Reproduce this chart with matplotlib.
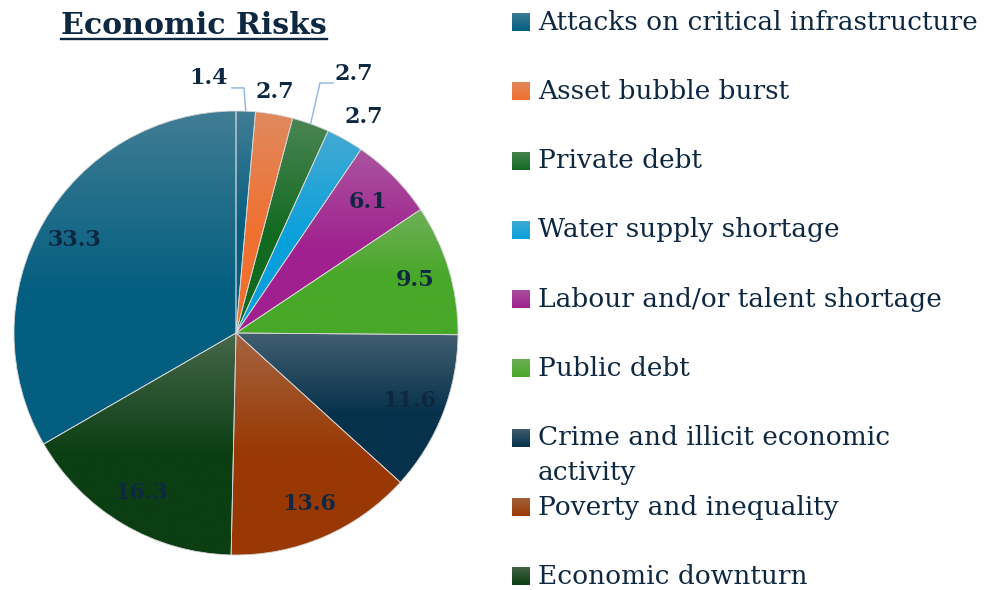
import numpy as np
import matplotlib.pyplot as plt
from matplotlib.colors import to_rgb
from matplotlib.lines import Line2D

# 经济风险占比（顺时针，从正上方开始）
values = [1.4, 2.7, 2.7, 2.7, 6.1, 9.5, 11.6, 13.6, 16.3, 33.3]
labels = ["Attacks on critical infrastructure", "Asset bubble burst", "Private debt",
          "Water supply shortage", "Labour and/or talent shortage", "Public debt",
          "Crime and illicit economic\nactivity", "Poverty and inequality",
          "Economic downturn"]
colors = ["#035E80", "#F07030", "#126A20", "#08A0DC", "#A0208F", "#48A828",
          "#06314B", "#993803", "#0B3E12", "#035E80"]
title = "Economic Risks"

text_color = "#0E2841"
leader_color = "#8DB4E2"
font = "DejaVu Serif"


def gradient(color, n=200, light=0.33, stop=0.55):
    """竖直渐变：顶部偏浅，向下过渡到原色"""
    base = np.array(to_rgb(color))
    grey = np.array([0.74, 0.74, 0.74])
    t = np.linspace(0, 1, n)
    mix = light * np.clip(1 - t / stop, 0, 1)
    img = base[None, :] * (1 - mix[:, None]) + grey[None, :] * mix[:, None]
    return img[:, None, :]


fig = plt.figure(figsize=(9.85, 5.9), dpi=100)
W, H = 985, 590

# 饼图区域：圆心 (236, 333)，半径 222 像素
cx, cy, R = 236, 333, 222
ax = fig.add_axes([(cx - R) / W, 1 - (cy + R) / H, 2 * R / W, 2 * R / H])
wedges, _ = ax.pie(values, colors=colors, startangle=90, counterclock=False,
                   radius=1, wedgeprops=dict(edgecolor="#d4d4d4", linewidth=0.6))

for w in wedges:
    th = np.radians(np.linspace(w.theta1, w.theta2, 100))
    xs = np.concatenate([[0], np.cos(th)])
    ys = np.concatenate([[0], np.sin(th)])
    im = ax.imshow(gradient(w.get_facecolor()), extent=[xs.min(), xs.max(), ys.min(), ys.max()],
                   origin="upper", aspect="auto", zorder=2, interpolation="bilinear")
    im.set_clip_path(w)
    w.set_facecolor("none")
    w.set_zorder(3)

ax.set_xlim(-1, 1)
ax.set_ylim(-1, 1)
ax.set_aspect("auto")
ax.axis("off")

# 数据标签：小扇区放在外侧，其余放在扇区内
total = sum(values)
cum = np.cumsum([0] + values[:-1])
mids = 90 - 360 * (cum + np.array(values) / 2) / total
outer = {0: (1.157, 8.7), 1: (1.10, 0.7), 2: (1.28, -4.8), 3: (1.13, -1.2)}
for i, v in enumerate(values):
    r, dth = outer.get(i, (0.84, 0.0))
    a = np.radians(mids[i] + dth)
    ax.text(r * np.cos(a), r * np.sin(a), f"{v:.1f}", ha="center", va="center",
            fontsize=16, fontweight="bold", family=font, color=text_color, zorder=5)

# 引导线
a0 = np.radians(mids[0])
ax.plot([np.cos(a0), np.cos(a0) - 0.008, -0.018], [np.sin(a0), 1.104, 1.104],
        color=leader_color, lw=1, zorder=4, clip_on=False)
a2 = np.radians(mids[2])
ax.plot([np.cos(a2), 0.378, 0.437], [np.sin(a2), 1.126, 1.126],
        color=leader_color, lw=1, zorder=4, clip_on=False)

# 标题（带下划线）
t = fig.text(194 / W, 1 - 34 / H, title, ha="center", va="baseline", fontsize=21.6,
             fontweight="bold", family=font, color=text_color)
fig.canvas.draw()
bb = t.get_window_extent()
fig.add_artist(Line2D([bb.x0 / W, bb.x1 / W], [1 - 39 / H, 1 - 39 / H],
                      color=text_color, lw=1.7))

# 图例
lax = fig.add_axes([0, 0, 1, 1])
lax.set_xlim(0, W)
lax.set_ylim(H, 0)
lax.axis("off")
row0, step = 22, 69.3
for i, lab in enumerate(labels):
    y = row0 + i * step
    lax.imshow(gradient(colors[i], light=0.3, stop=1.0), extent=[512, 530, y + 9, y - 9],
               origin="upper", aspect="auto", interpolation="bilinear")
    for k, line in enumerate(lab.split("\n")):
        lax.text(538, y + k * 35, line, ha="left", va="center", fontsize=19,
                 family=font, color=text_color)
lax.set_xlim(0, W)
lax.set_ylim(H, 0)

fig.savefig("out.png", dpi=100)
